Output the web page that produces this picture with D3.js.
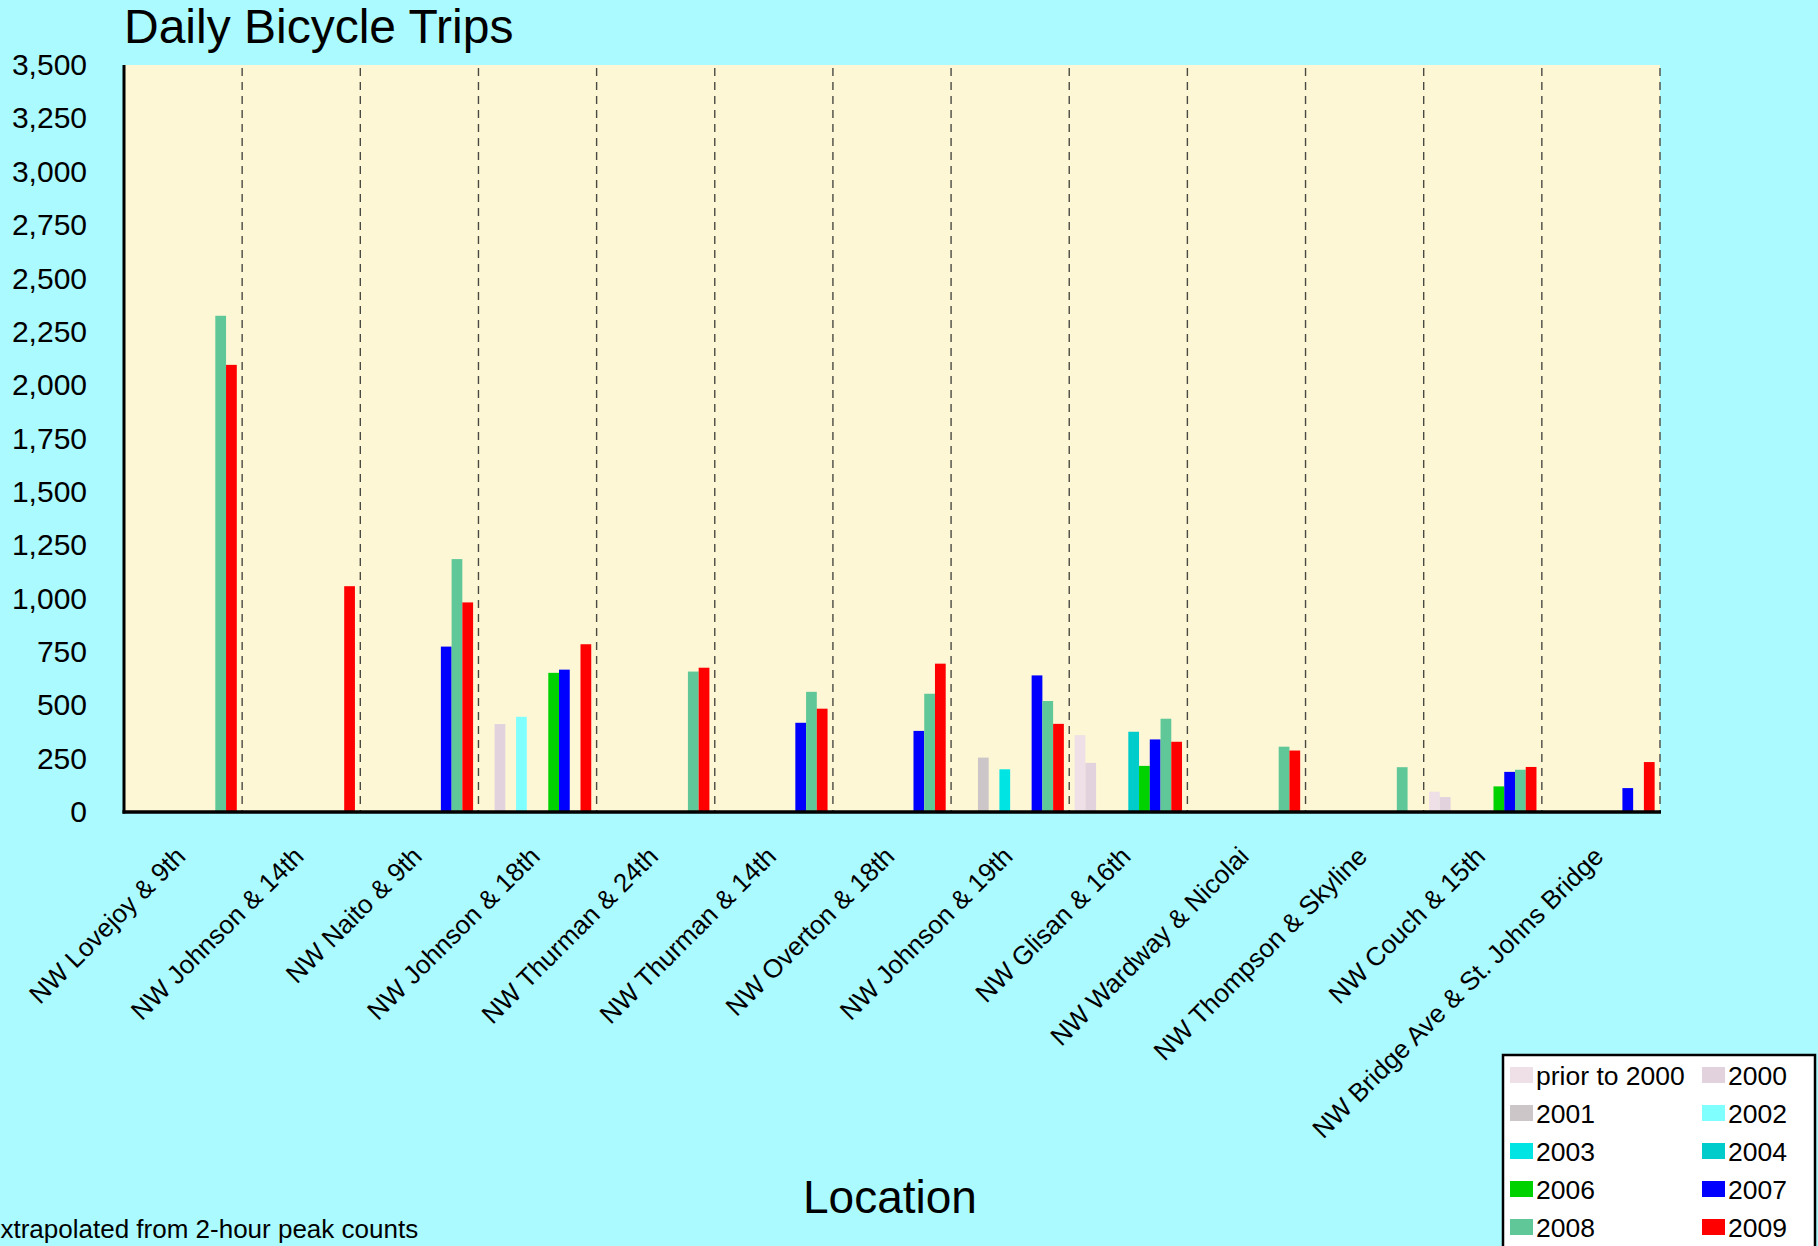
<!DOCTYPE html>
<html>
<head>
<meta charset="utf-8">
<script src="https://cdn.jsdelivr.net/npm/d3@7"></script>
<style>
  body { margin: 0; background: #aafaff; }
  svg { display: block; font-family: "Liberation Sans", Arial, sans-serif; }
</style>
</head>
<body>
<script>
var locations = ["NW Lovejoy & 9th", "NW Johnson & 14th", "NW Naito & 9th", "NW Johnson & 18th",
  "NW Thurman & 24th", "NW Thurman & 14th", "NW Overton & 18th", "NW Johnson & 19th",
  "NW Glisan & 16th", "NW Wardway & Nicolai", "NW Thompson & Skyline", "NW Couch & 15th",
  "NW Bridge Ave & St. Johns Bridge"];

var years = ["prior to 2000", "2000", "2001", "2002", "2003", "2004", "2006", "2007", "2008", "2009"];
var yearColors = ["#eee0e6", "#e2d2de", "#ccc6c9", "#80ffff", "#00e4e4", "#00cccc", "#00d200", "#0000ff", "#60c898", "#ff0000"];

// one value per location, null = no count that year
var priorTo2000 = [null, null, null, null, null, null, null, null, 360, null, null, 95, null];
var y2000 = [null, null, null, 412, null, null, null, null, 230, null, null, 70, null];
var y2001 = [null, null, null, null, null, null, null, 255, null, null, null, null, null];
var y2002 = [null, null, null, 446, null, null, null, null, null, null, null, null, null];
var y2003 = [null, null, null, null, null, null, null, 200, null, null, null, null, null];
var y2004 = [null, null, null, null, null, null, null, null, 376, null, null, null, null];
var y2006 = [null, null, null, 652, null, null, null, null, 216, null, null, 120, null];
var y2007 = [null, null, 775, 667, null, 418, 380, 640, 340, null, null, 188, 112];
var y2008 = [2325, null, 1185, null, 658, 563, 554, 520, 437, 306, 210, 198, null];
var y2009 = [2095, 1058, 982, 786, 676, 484, 695, 413, 329, 288, null, 211, 234];

var yTicks = [0, 250, 500, 750, 1000, 1250, 1500, 1750, 2000, 2250, 2500, 2750, 3000, 3250, 3500];

var seriesValues = [priorTo2000, y2000, y2001, y2002, y2003, y2004, y2006, y2007, y2008, y2009];

var svgWidth = 1818;
var svgHeight = 1246;
var margin = { top: 65, left: 124 };
var width = 1536;
var height = 747;

var svg = d3.select("body")
  .append("svg")
  .attr("width", svgWidth)
  .attr("height", svgHeight);

// title
svg.append("text")
  .attr("x", 124)
  .attr("y", 43)
  .style("font-size", "48px")
  .text("Daily Bicycle Trips");

var chart = svg.append("g")
  .attr("transform", "translate(" + margin.left + "," + margin.top + ")");

var x0 = d3.scaleBand().domain(locations).range([0, width]).padding(0);
var x1 = d3.scaleBand().domain(years).range([0, x0.bandwidth()]).paddingInner(0).paddingOuter(0.5);
var y = d3.scaleLinear().domain([0, 3500]).range([height, 0]);
var color = d3.scaleOrdinal().domain(years).range(yearColors);

chart.append("rect")
  .attr("width", width)
  .attr("height", height)
  .attr("fill", "#fdf7d5");

// dashed separators between locations
chart.selectAll(".sep")
  .data(locations)
  .enter()
  .append("line")
  .attr("x1", function (d) { return x0(d) + x0.bandwidth(); })
  .attr("x2", function (d) { return x0(d) + x0.bandwidth(); })
  .attr("y1", 3)
  .attr("y2", height)
  .attr("stroke", "#4a4a44")
  .attr("stroke-width", 1.4)
  .attr("stroke-dasharray", "8,6");

// bars
var barData = [];
locations.forEach(function (loc, i) {
  years.forEach(function (yr, j) {
    var v = seriesValues[j][i];
    if (v != null) barData.push({ loc: loc, year: yr, value: v });
  });
});

chart.selectAll(".bar")
  .data(barData)
  .enter()
  .append("rect")
  .attr("x", function (d) { return x0(d.loc) + x1(d.year); })
  .attr("y", function (d) { return y(d.value); })
  .attr("width", x1.bandwidth())
  .attr("height", function (d) { return height - y(d.value); })
  .attr("fill", function (d) { return color(d.year); });

// y axis labels
var leftAxis = d3.axisLeft(y)
  .tickValues(yTicks)
  .tickFormat(d3.format(","))
  .tickSize(0)
  .tickPadding(37);

var yAxis = chart.append("g").call(leftAxis);
yAxis.select(".domain").remove();
yAxis.selectAll("text")
  .style("font-size", "30px")
  .style("font-family", "Liberation Sans, Arial, sans-serif")
  .attr("fill", "#000");

// axis lines
chart.append("line")
  .attr("x1", 0).attr("x2", 0)
  .attr("y1", 0).attr("y2", height + 1.5)
  .attr("stroke", "#000").attr("stroke-width", 3);
chart.append("line")
  .attr("x1", -1.5).attr("x2", width + 1)
  .attr("y1", height).attr("y2", height)
  .attr("stroke", "#000").attr("stroke-width", 3.5);

// x labels, rotated
chart.selectAll(".xlabel")
  .data(locations)
  .enter()
  .append("text")
  .attr("transform", function (d) {
    return "translate(" + (x0(d) + x0.bandwidth() / 2 + 4) + "," + (height + 46) + ") rotate(-45)";
  })
  .attr("text-anchor", "end")
  .style("font-size", "26px")
  .text(function (d) { return d; });

// x axis title
svg.append("text")
  .attr("x", 890)
  .attr("y", 1213)
  .attr("text-anchor", "middle")
  .style("font-size", "46px")
  .text("Location");

// footnote (cut at the left edge as in the original)
svg.append("text")
  .attr("x", -14)
  .attr("y", 1238)
  .style("font-size", "26px")
  .text("extrapolated from 2-hour peak counts");

// legend
var legend = svg.append("g").attr("transform", "translate(1503,1055)");
legend.append("rect")
  .attr("width", 312)
  .attr("height", 220)
  .attr("fill", "#fff")
  .attr("stroke", "#000")
  .attr("stroke-width", 2.5);

var items = legend.selectAll(".item")
  .data(years)
  .enter()
  .append("g")
  .attr("transform", function (d, i) {
    return "translate(" + (i % 2 === 0 ? 7 : 199) + "," + (12 + Math.floor(i / 2) * 38) + ")";
  });

items.append("rect")
  .attr("width", 23)
  .attr("height", 16)
  .attr("fill", function (d) { return color(d); });

items.append("text")
  .attr("x", 26)
  .attr("y", 18)
  .style("font-size", "26.5px")
  .text(function (d) { return d; });
</script>
</body>
</html>
